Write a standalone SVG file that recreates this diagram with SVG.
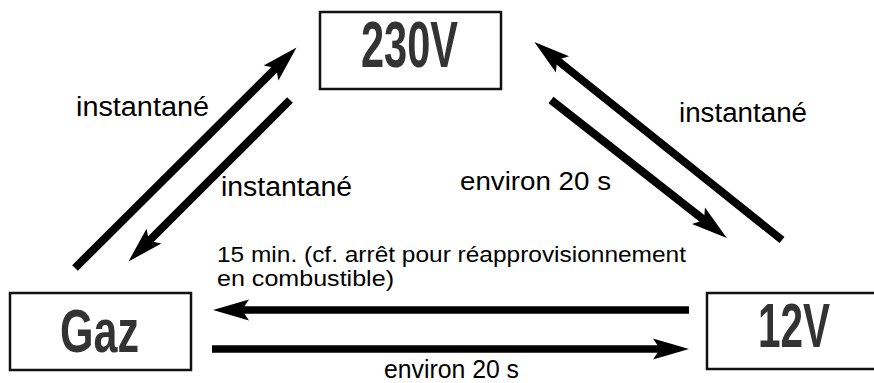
<svg xmlns="http://www.w3.org/2000/svg" width="874" height="383" viewBox="0 0 874 383">
<style>
.box{fill:#fff;stroke:#111;stroke-width:2.5}
.big{font-family:"Liberation Sans Narrow","Liberation Sans",Arial,sans-serif;font-weight:bold;fill:#333}
.lbl{font-family:"Liberation Sans",Arial,Helvetica,sans-serif;fill:#000}
.arr{stroke:#000;stroke-width:8;fill:none;marker-end:url(#ah)}
.hl{stroke:#000;stroke-width:7.5;fill:none;marker-end:url(#ah)}
</style>
<defs>
<marker id="ah" markerUnits="userSpaceOnUse" viewBox="-37 -12 38 24" refX="-29" refY="0" markerWidth="38" markerHeight="24" orient="auto">
<path d="M0,0 L-36,-10.5 L-29,0 L-36,10.5 Z" fill="#000"/>
</marker>
</defs>
<g id="connectors">
<line class="arr" x1="75" y1="268" x2="276" y2="68"/>
<line class="arr" x1="290" y1="100" x2="149" y2="241"/>
<line class="arr" x1="782" y1="240" x2="557" y2="60"/>
<line class="arr" x1="551" y1="100" x2="704" y2="220"/>
<line class="hl" x1="689" y1="310" x2="242" y2="310"/>
<line class="hl" x1="212" y1="349" x2="660" y2="349"/>
</g>
<g id="node-230v">
<rect class="box" x="320" y="12" width="181" height="77"/>
<text class="big" x="361" y="67" font-size="64" textLength="97" lengthAdjust="spacingAndGlyphs">230V</text>
</g>
<g id="node-gaz">
<rect class="box" x="10" y="293" width="181" height="77"/>
<text class="big" x="60" y="352" font-size="62" textLength="79" lengthAdjust="spacingAndGlyphs">Gaz</text>
</g>
<g id="node-12v">
<rect class="box" x="707" y="293" width="190" height="76"/>
<text class="big" x="758" y="347" font-size="63" textLength="72" lengthAdjust="spacingAndGlyphs">12V</text>
</g>
<g id="labels">
<text class="lbl" x="76" y="116" font-size="27" textLength="133" lengthAdjust="spacingAndGlyphs">instantané</text>
<text class="lbl" x="221" y="196" font-size="27" textLength="131" lengthAdjust="spacingAndGlyphs">instantané</text>
<text class="lbl" x="679" y="122" font-size="27" textLength="128" lengthAdjust="spacingAndGlyphs">instantané</text>
<text class="lbl" x="460" y="190" font-size="25" textLength="151" lengthAdjust="spacingAndGlyphs">environ 20 s</text>
<text class="lbl" x="217" y="262" font-size="22" textLength="469" lengthAdjust="spacingAndGlyphs">15 min. (cf. arrêt pour réapprovisionnement</text>
<text class="lbl" x="217" y="286" font-size="22" textLength="177" lengthAdjust="spacingAndGlyphs">en combustible)</text>
<text class="lbl" x="384" y="378" font-size="25" textLength="135" lengthAdjust="spacingAndGlyphs">environ 20 s</text>
</g>
</svg>
